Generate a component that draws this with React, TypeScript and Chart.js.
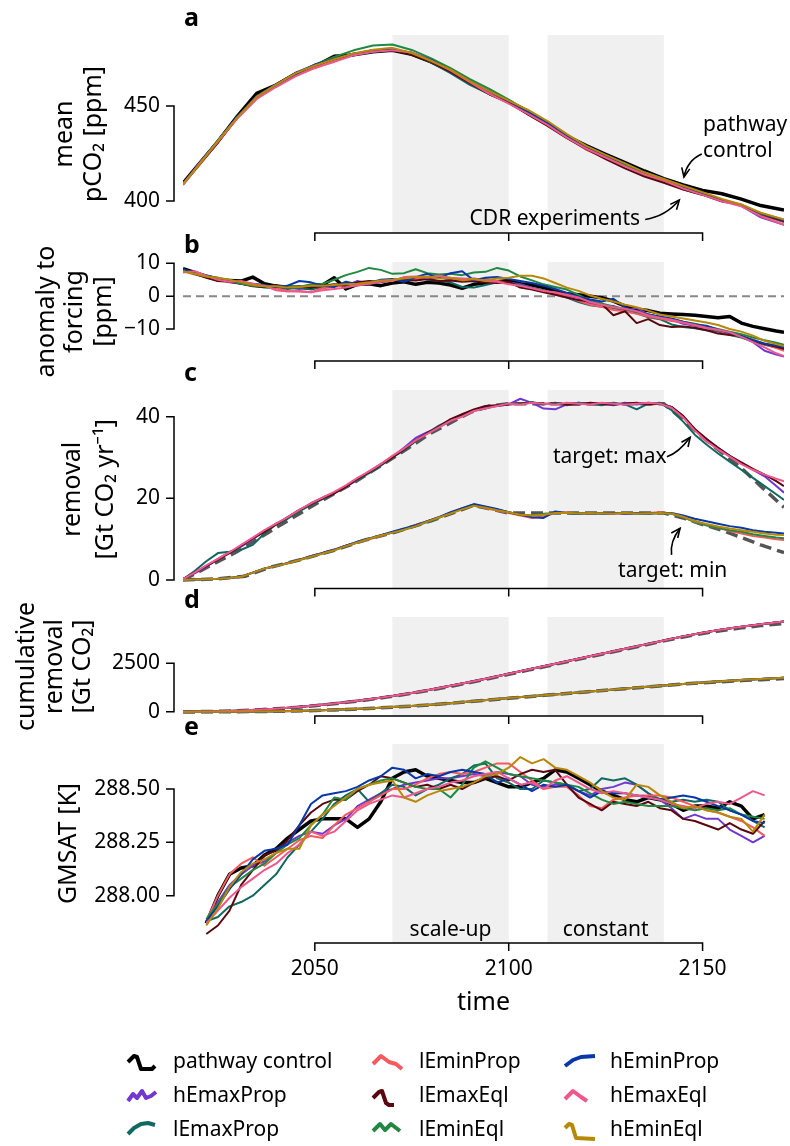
import { useEffect, useRef } from "react";
import { Chart, registerables } from "chart.js";

Chart.register(...registerables);

const W = 790;
const H = 1146;
const FONT = '"Noto Sans", "DejaVu Sans", sans-serif';

// ---------- time axes ----------
const X_MIN = 2016;
const X_MAX = 2171;
const X_TICKS = [2050, 2100, 2150];
const X_TICK_LABELS = ["2050", "2100", "2150"];
const SCALE_UP = [2070, 2100];
const CONSTANT = [2110, 2140];

const YEARS_5 = [2016, 2020, 2025, 2030, 2035, 2040, 2045, 2050, 2055, 2060, 2065, 2070, 2075, 2080, 2085, 2090, 2095, 2100, 2105, 2110, 2115, 2120, 2125, 2130, 2135, 2140, 2145, 2150, 2155, 2160, 2165, 2171];
const YEARS_3 = [2016, 2019, 2022, 2025, 2028, 2031, 2034, 2037, 2040, 2043, 2046, 2049, 2052, 2055, 2058, 2061, 2064, 2067, 2070, 2073, 2076, 2079, 2082, 2085, 2088, 2091, 2094, 2097, 2100, 2103, 2106, 2109, 2112, 2115, 2118, 2121, 2124, 2127, 2130, 2133, 2136, 2139, 2142, 2145, 2148, 2151, 2154, 2157, 2160, 2163, 2166, 2169, 2171];
const YEARS_E = [2022, 2025, 2028, 2031, 2034, 2037, 2040, 2043, 2046, 2049, 2052, 2055, 2058, 2061, 2064, 2067, 2070, 2073, 2076, 2079, 2082, 2085, 2088, 2091, 2094, 2097, 2100, 2103, 2106, 2109, 2112, 2115, 2118, 2121, 2124, 2127, 2130, 2133, 2136, 2139, 2142, 2145, 2148, 2151, 2154, 2157, 2160, 2163, 2166];

// ---------- (a) mean pCO2 [ppm] ----------
const PCO2_CONTROL = [409.4, 419.2, 431.3, 444.6, 456.6, 461, 466.9, 470.9, 476.2, 476.9, 478.5, 479.3, 477.2, 473.2, 468.2, 462.2, 456.8, 452.3, 446.9, 440.9, 434.2, 429.2, 424.6, 420.2, 415.8, 411.8, 408.5, 405.6, 403.8, 401, 397.6, 395.2];
const PCO2_HEMAXPROP = [409, 418.7, 431.8, 444, 454.3, 461.3, 467.5, 471.6, 474.4, 477.6, 478.6, 479.6, 478, 473.5, 468.2, 462.8, 457, 451.8, 446.1, 440.3, 434, 427.4, 423.1, 419.2, 414.1, 410.8, 407, 404, 400.5, 397.4, 391.4, 387.5];
const PCO2_LEMAXPROP = [408.7, 419.2, 431.9, 443.8, 454.1, 460.5, 466.6, 471.5, 474.8, 477.3, 479.2, 479.8, 477.9, 472.9, 467.3, 461.1, 456.2, 451.6, 446.1, 440.5, 433.5, 427.2, 422.9, 418.6, 413.7, 410.6, 406.2, 403.4, 400.3, 397.6, 392.8, 388.9];
const PCO2_LEMINPROP = [408.6, 418.4, 431.1, 444.2, 454.5, 460.4, 465.8, 469.9, 473.6, 476.9, 478.8, 479.6, 477.5, 473.9, 468.7, 462.2, 456.8, 451.5, 445.7, 439.9, 433.4, 427, 422.7, 418.6, 414.1, 410.8, 407.2, 403.8, 400.3, 397.8, 393, 389.1];
const PCO2_LEMAXEQL = [409.2, 418.8, 430.9, 443.8, 454, 461.4, 467.3, 471.1, 474.7, 477.5, 479.3, 479.5, 476.9, 473.2, 468, 462, 456.2, 451.8, 445.5, 439.5, 433.1, 427.4, 422.1, 417.2, 412.9, 409.6, 406, 403.2, 399.7, 398, 393.2, 389.3];
const PCO2_LEMINEQL = [408.8, 419, 431.7, 444.3, 454.2, 460.8, 467.2, 471.8, 475.8, 479.3, 481.8, 482.4, 479.5, 475.1, 469.9, 464.1, 459, 453.4, 447.3, 440.9, 434.2, 428, 423.3, 419, 414.7, 411, 407.2, 403.8, 400.7, 398, 393.4, 390.1];
const PCO2_HEMINPROP = [409.2, 419.3, 431.5, 444.4, 455.1, 461.4, 466.8, 471.8, 474.7, 477.3, 479.4, 479.8, 478.1, 474.3, 468.9, 463.1, 457.8, 452.6, 446.9, 441.1, 434.2, 428.4, 423.7, 419.8, 415.1, 411.8, 407.6, 404, 400.5, 397.8, 393.6, 389.9];
const PCO2_HEMAXEQL = [408.4, 419.2, 431.1, 443.4, 453.7, 460, 465.6, 470.3, 473.2, 476.7, 478.6, 479.4, 478.1, 473.9, 468.7, 462.5, 456.4, 451.2, 445.9, 440.1, 433.4, 427.6, 422.9, 418.2, 413.9, 410.8, 406.6, 403.2, 399.9, 397.2, 392, 387.5];
const PCO2_HEMINEQL = [409, 418.8, 431.7, 444, 454.9, 461.2, 467.2, 471.3, 474.6, 477.7, 479.6, 480.6, 477.9, 473.7, 469.1, 463.1, 457.8, 452.8, 447.9, 442.1, 435.2, 429, 424.3, 419.8, 415.1, 411.6, 408, 404.6, 401.1, 398.2, 393.8, 390.3];

// ---------- (b) anomaly to forcing [ppm] ----------
const ANOM_CONTROL = [8.4, 7.2, 6.0, 5.0, 4.8, 4.6, 5.8, 3.8, 3.0, 2.8, 2.6, 2.4, 3.4, 5.6, 2.2, 3.6, 3.8, 3.2, 4.0, 4.4, 3.6, 4.2, 4.0, 3.4, 2.4, 3.6, 4.0, 4.4, 4.8, 3.8, 3.4, 2.6, 1.6, 0.7, 0.4, 0.0, -0.5, -1.5, -3.0, -4.0, -4.4, -5.2, -5.4, -5.6, -5.8, -6.2, -6.6, -6.2, -8.2, -9.2, -9.9, -10.6, -11.0];
const ANOM_HEMAXPROP = [8.0, 6.8, 5.8, 5.4, 4.2, 3.8, 3.4, 3.0, 3.2, 2.6, 2.2, 3.0, 2.8, 3.4, 3.2, 4.6, 3.8, 4.2, 5.0, 4.8, 5.6, 5.2, 5.8, 5.0, 4.6, 5.4, 4.8, 4.4, 4.2, 3.6, 2.6, 1.6, 1.0, 0.2, -0.6, -2.2, -2.8, -3.0, -4.4, -3.6, -5.6, -6.4, -7.2, -8.4, -9.0, -9.6, -10.8, -11.4, -12.2, -14.0, -16.6, -17.8, -18.4];
const ANOM_LEMAXPROP = [7.8, 7.0, 6.2, 5.6, 4.8, 3.8, 3.2, 2.6, 2.4, 2.2, 2.6, 2.0, 2.8, 3.0, 3.8, 3.6, 4.2, 4.4, 4.8, 5.6, 5.8, 5.0, 4.6, 4.2, 2.8, 2.6, 3.4, 4.2, 4.0, 3.4, 2.4, 1.8, 0.6, -0.4, -1.8, -2.8, -3.2, -3.6, -4.6, -5.2, -6.4, -7.0, -8.6, -9.4, -9.8, -10.4, -10.6, -11.8, -12.6, -13.8, -14.8, -15.6, -16.2];
const ANOM_LEMINPROP = [7.6, 6.6, 5.8, 5.2, 4.2, 4.4, 3.6, 3.0, 2.4, 1.6, 1.4, 1.2, 2.4, 2.8, 3.4, 3.2, 4.0, 4.6, 5.0, 5.4, 5.2, 5.8, 5.6, 5.4, 5.0, 4.8, 5.2, 4.6, 4.0, 2.8, 2.2, 1.6, 0.8, -0.2, -1.4, -2.6, -3.2, -4.2, -4.6, -5.4, -6.2, -6.8, -7.6, -8.0, -8.8, -9.6, -10.4, -11.6, -12.2, -13.2, -14.6, -15.8, -16.6];
const ANOM_LEMAXEQL = [8.2, 6.8, 5.6, 4.6, 4.4, 3.8, 3.0, 2.8, 3.4, 2.6, 3.0, 2.6, 3.2, 3.6, 3.4, 4.2, 4.6, 4.4, 4.8, 5.0, 4.8, 5.2, 4.6, 4.8, 4.4, 4.6, 4.2, 4.0, 4.4, 2.6, 2.0, 1.2, 0.4, -0.4, -1.2, -1.6, -2.4, -5.8, -4.6, -8.2, -7.0, -8.8, -9.4, -9.2, -9.6, -10.4, -11.4, -11.8, -12.0, -13.6, -14.6, -15.4, -16.0];
const ANOM_LEMINEQL = [8.0, 6.8, 6.0, 5.4, 4.6, 3.8, 3.2, 3.0, 2.8, 3.2, 2.8, 3.6, 3.8, 5.0, 6.4, 7.4, 8.6, 8.0, 6.8, 7.0, 8.2, 7.0, 6.6, 6.8, 6.4, 7.2, 7.4, 8.6, 7.8, 6.0, 4.8, 3.6, 2.8, 2.0, 0.4, -1.4, -2.2, -3.2, -3.8, -4.8, -5.6, -6.4, -7.0, -7.8, -8.4, -9.2, -10.0, -10.8, -11.6, -12.6, -13.4, -14.2, -14.8];
const ANOM_HEMINPROP = [8.2, 7.2, 6.4, 5.4, 4.8, 4.2, 3.8, 3.4, 2.8, 3.2, 4.6, 4.2, 3.2, 2.8, 4.4, 3.6, 4.0, 5.0, 5.2, 4.4, 5.8, 6.8, 5.6, 7.0, 7.6, 4.8, 5.6, 5.8, 5.2, 4.6, 4.0, 3.2, 2.2, 1.0, -0.2, -1.0, -1.6, -0.8, -3.4, -4.6, -5.6, -6.2, -6.8, -7.8, -8.6, -9.0, -10.2, -11.2, -12.2, -13.4, -14.4, -15.0, -15.6];
const ANOM_HEMAXEQL = [7.2, 7.6, 6.2, 5.0, 4.4, 4.6, 3.8, 3.2, 1.8, 1.4, 1.6, 1.2, 1.8, 2.2, 2.6, 3.4, 3.8, 4.4, 4.6, 5.8, 6.0, 5.6, 6.2, 5.6, 5.4, 5.2, 4.6, 4.4, 3.6, 3.2, 2.4, 1.6, 1.2, 0.4, -0.4, -1.8, -2.6, -3.4, -3.8, -4.6, -5.8, -6.6, -7.2, -8.0, -8.8, -9.6, -10.2, -11.0, -12.4, -14.0, -15.6, -17.4, -18.2];
const ANOM_HEMINEQL = [7.6, 6.8, 6.0, 5.6, 5.0, 4.2, 3.4, 3.0, 3.0, 2.6, 2.8, 3.2, 3.2, 3.4, 3.6, 3.8, 4.2, 4.8, 5.0, 5.4, 5.8, 6.0, 5.4, 5.6, 4.8, 5.2, 4.8, 5.4, 5.6, 6.2, 6.2, 5.4, 4.0, 2.6, 1.6, 0.2, -0.8, -1.6, -2.6, -3.4, -4.4, -5.6, -6.2, -6.8, -7.4, -8.0, -8.8, -10.0, -10.8, -12.0, -13.6, -14.6, -15.2];
const ZERO_YEARS = [2016, 2171];
const ZERO_LINE = [0, 0];

// ---------- (c) removal [Gt CO2 / yr] ----------
const REM_HEMAXPROP = [0.2, 1.6, 3.2, 5.2, 6.8, 8.2, 10.0, 12.0, 13.8, 15.2, 17.0, 18.8, 20.2, 21.4, 22.8, 24.6, 26.6, 28.4, 30.2, 32.4, 34.8, 36.2, 37.4, 39.0, 40.6, 41.4, 42.2, 42.6, 43.0, 44.4, 43.4, 42.0, 41.8, 43.0, 43.4, 43.0, 43.2, 42.8, 43.4, 43.0, 43.4, 43.2, 42.4, 40.0, 36.8, 34.4, 32.4, 30.4, 28.6, 27.0, 25.4, 23.0, 21.4];
const REM_LEMAXPROP = [0.2, 2.2, 4.6, 6.6, 6.9, 7.4, 8.6, 11.4, 13.6, 15.0, 16.8, 18.4, 19.8, 21.2, 23.0, 24.6, 26.2, 28.0, 30.0, 31.8, 34.0, 36.0, 37.8, 39.2, 40.4, 41.6, 42.0, 42.8, 43.2, 43.2, 43.6, 43.0, 43.4, 42.8, 43.4, 43.2, 42.8, 43.4, 43.0, 41.8, 43.2, 43.4, 41.6, 38.8, 35.6, 33.2, 31.0, 29.0, 27.0, 25.0, 23.0, 21.0, 19.6];
const REM_LEMINPROP = [0.0, 0.1, 0.2, 0.3, 0.5, 0.8, 1.8, 2.8, 3.4, 4.1, 5.0, 5.8, 6.6, 7.4, 8.4, 9.2, 10.0, 10.8, 11.6, 12.4, 13.4, 14.4, 15.4, 16.4, 17.6, 18.4, 17.6, 17.0, 16.4, 15.8, 15.2, 15.6, 16.4, 16.6, 16.2, 16.4, 16.4, 16.2, 16.4, 16.2, 16.4, 16.6, 16.2, 15.4, 14.2, 13.4, 12.8, 12.0, 11.4, 10.8, 10.4, 10.0, 9.8];
const REM_LEMAXEQL = [0.2, 1.8, 3.4, 5.0, 6.6, 8.4, 10.2, 11.8, 13.6, 15.4, 17.2, 18.6, 20.0, 21.2, 22.8, 24.8, 26.4, 28.2, 30.0, 32.0, 34.2, 36.0, 37.6, 39.4, 40.6, 41.8, 42.6, 42.8, 43.0, 43.2, 43.4, 43.2, 43.2, 43.0, 43.0, 43.4, 43.2, 43.0, 43.2, 43.4, 43.0, 43.2, 42.4, 40.2, 37.0, 34.6, 32.4, 30.4, 28.8, 27.2, 25.8, 24.2, 23.0];
const REM_LEMINEQL = [0.0, 0.1, 0.2, 0.3, 0.5, 0.8, 1.8, 2.8, 3.4, 4.1, 4.9, 5.7, 6.5, 7.3, 8.3, 9.2, 10.1, 10.9, 11.6, 12.3, 13.2, 14.2, 15.2, 16.4, 17.4, 18.2, 17.8, 17.2, 16.6, 16.0, 15.8, 16.2, 16.4, 16.4, 16.3, 16.4, 16.3, 16.4, 16.4, 16.3, 16.3, 16.4, 16.2, 15.4, 14.2, 13.4, 12.8, 12.2, 11.8, 11.2, 10.8, 10.4, 10.2];
const REM_HEMINPROP = [0.0, 0.1, 0.2, 0.3, 0.5, 0.8, 1.8, 2.8, 3.4, 4.2, 5.0, 5.8, 6.6, 7.4, 8.4, 9.4, 10.2, 11.0, 11.8, 12.6, 13.4, 14.4, 15.4, 16.6, 17.6, 18.6, 18.0, 17.4, 16.6, 16.0, 15.4, 15.2, 16.8, 16.4, 16.2, 16.4, 16.2, 16.4, 16.2, 16.4, 16.2, 16.4, 16.4, 15.8, 15.0, 14.4, 13.8, 13.2, 12.8, 12.2, 11.8, 11.6, 11.4];
const REM_HEMAXEQL = [0.2, 1.8, 3.6, 5.2, 6.8, 8.6, 10.4, 12.2, 13.8, 15.4, 17.2, 18.8, 20.2, 21.6, 23.2, 25.0, 26.6, 28.4, 30.4, 32.2, 34.2, 35.8, 37.4, 39.0, 40.0, 41.4, 42.0, 42.6, 43.2, 43.0, 43.4, 43.2, 43.0, 43.4, 43.2, 43.0, 43.4, 43.2, 43.0, 43.2, 43.4, 43.2, 42.2, 39.8, 36.6, 34.0, 32.0, 30.2, 28.4, 27.0, 25.8, 24.8, 24.2];
const REM_HEMINEQL = [0.0, 0.1, 0.2, 0.3, 0.5, 0.8, 1.8, 2.8, 3.4, 4.1, 4.9, 5.7, 6.5, 7.3, 8.3, 9.2, 10.1, 10.9, 11.6, 12.3, 13.2, 14.3, 15.3, 16.3, 17.3, 18.2, 17.7, 17.1, 16.6, 16.0, 15.8, 16.0, 16.4, 16.5, 16.3, 16.4, 16.3, 16.3, 16.4, 16.3, 16.3, 16.4, 16.3, 15.5, 14.4, 13.7, 13.1, 12.6, 12.2, 11.8, 11.4, 11.1, 11.0];
const TARGET_MAX_YEARS = [2016, 2030, 2040, 2050, 2060, 2070, 2080, 2090, 2095, 2100, 2140, 2145, 2150, 2155, 2160, 2165, 2171];
const TARGET_MAX = [0, 7.0, 12.8, 18.5, 23.8, 29.8, 36.0, 41.0, 42.6, 43.2, 43.2, 39.2, 35.0, 31.2, 27.4, 23.0, 17.8];
const TARGET_MIN_YEARS = [2016, 2025, 2032, 2038, 2046, 2055, 2063, 2071, 2080, 2091, 2100, 2140, 2145, 2150, 2155, 2160, 2165, 2171];
const TARGET_MIN = [0, 0.3, 0.9, 3.0, 4.9, 7.3, 9.8, 11.8, 14.5, 18.3, 16.4, 16.4, 15.2, 13.6, 12.2, 10.4, 8.6, 6.7];

// ---------- (d) cumulative removal [Gt CO2] ----------
const CUM_MAX = [0, 4, 20, 50, 95, 155, 230, 320, 420, 535, 665, 810, 970, 1145, 1335, 1535, 1745, 1960, 2175, 2390, 2605, 2820, 3035, 3250, 3465, 3680, 3890, 4075, 4240, 4385, 4515, 4660];
const CUM_MIN = [0, 0.4, 1.5, 3.5, 8, 20, 40, 65, 97, 136, 183, 237, 297, 365, 442, 528, 618, 704, 784, 864, 946, 1028, 1110, 1192, 1274, 1356, 1436, 1506, 1570, 1632, 1690, 1756];
const TARGET_CUM_MAX = [0, 3, 18, 46, 90, 148, 222, 310, 410, 522, 650, 792, 950, 1122, 1310, 1508, 1716, 1930, 2146, 2362, 2578, 2794, 3010, 3226, 3442, 3658, 3862, 4040, 4195, 4330, 4445, 4560];
const TARGET_CUM_MIN = [0, 0.4, 1.5, 3.5, 8, 19, 38, 62, 94, 132, 178, 231, 290, 357, 433, 519, 609, 694, 776, 858, 940, 1022, 1104, 1186, 1268, 1350, 1428, 1494, 1552, 1606, 1656, 1710];

// ---------- (e) GMSAT [K] ----------
const GMSAT_CONTROL = [287.87, 288.00, 288.10, 288.13, 288.14, 288.19, 288.22, 288.27, 288.31, 288.35, 288.36, 288.36, 288.36, 288.32, 288.36, 288.44, 288.55, 288.58, 288.59, 288.56, 288.55, 288.54, 288.53, 288.53, 288.55, 288.53, 288.51, 288.51, 288.53, 288.55, 288.59, 288.58, 288.55, 288.52, 288.49, 288.47, 288.45, 288.44, 288.46, 288.45, 288.43, 288.40, 288.42, 288.42, 288.41, 288.44, 288.42, 288.36, 288.38];
const GMSAT_HEMAXPROP = [287.88, 287.97, 288.05, 288.10, 288.14, 288.16, 288.20, 288.25, 288.28, 288.30, 288.29, 288.33, 288.36, 288.42, 288.45, 288.48, 288.50, 288.52, 288.53, 288.54, 288.55, 288.55, 288.56, 288.57, 288.56, 288.58, 288.57, 288.56, 288.52, 288.51, 288.52, 288.52, 288.49, 288.47, 288.50, 288.51, 288.53, 288.52, 288.48, 288.45, 288.41, 288.36, 288.38, 288.36, 288.36, 288.31, 288.28, 288.25, 288.28];
const GMSAT_LEMAXPROP = [287.88, 287.90, 287.95, 287.97, 288.00, 288.05, 288.10, 288.18, 288.24, 288.30, 288.36, 288.43, 288.47, 288.50, 288.44, 288.48, 288.52, 288.51, 288.47, 288.50, 288.52, 288.55, 288.57, 288.61, 288.62, 288.55, 288.53, 288.50, 288.50, 288.54, 288.53, 288.52, 288.49, 288.50, 288.55, 288.54, 288.55, 288.52, 288.48, 288.45, 288.44, 288.45, 288.44, 288.45, 288.44, 288.40, 288.38, 288.35, 288.32];
const GMSAT_LEMINPROP = [287.88, 288.00, 288.10, 288.15, 288.18, 288.14, 288.18, 288.22, 288.26, 288.28, 288.27, 288.33, 288.38, 288.41, 288.44, 288.47, 288.50, 288.50, 288.52, 288.55, 288.57, 288.58, 288.57, 288.58, 288.60, 288.62, 288.62, 288.58, 288.54, 288.50, 288.51, 288.51, 288.47, 288.42, 288.41, 288.45, 288.46, 288.47, 288.47, 288.47, 288.46, 288.44, 288.42, 288.40, 288.39, 288.37, 288.35, 288.32, 288.28];
const GMSAT_LEMAXEQL = [287.82, 287.86, 287.93, 288.05, 288.12, 288.19, 288.21, 288.26, 288.33, 288.39, 288.43, 288.45, 288.45, 288.49, 288.52, 288.56, 288.55, 288.53, 288.51, 288.52, 288.50, 288.52, 288.50, 288.53, 288.55, 288.56, 288.54, 288.57, 288.59, 288.58, 288.59, 288.52, 288.46, 288.43, 288.40, 288.44, 288.43, 288.42, 288.44, 288.41, 288.40, 288.36, 288.35, 288.33, 288.31, 288.34, 288.31, 288.29, 288.35];
const GMSAT_LEMINEQL = [287.89, 287.96, 288.04, 288.08, 288.12, 288.15, 288.20, 288.24, 288.27, 288.33, 288.38, 288.46, 288.45, 288.50, 288.52, 288.54, 288.55, 288.53, 288.51, 288.50, 288.50, 288.46, 288.52, 288.60, 288.63, 288.60, 288.57, 288.56, 288.55, 288.54, 288.53, 288.52, 288.51, 288.48, 288.45, 288.43, 288.44, 288.43, 288.42, 288.42, 288.42, 288.41, 288.40, 288.41, 288.40, 288.41, 288.38, 288.37, 288.36];
const GMSAT_HEMINPROP = [287.88, 287.95, 288.03, 288.10, 288.17, 288.21, 288.22, 288.24, 288.33, 288.43, 288.47, 288.48, 288.49, 288.51, 288.54, 288.56, 288.60, 288.59, 288.55, 288.57, 288.56, 288.58, 288.59, 288.58, 288.57, 288.53, 288.55, 288.52, 288.49, 288.52, 288.51, 288.52, 288.49, 288.46, 288.49, 288.48, 288.48, 288.47, 288.46, 288.45, 288.46, 288.47, 288.46, 288.44, 288.42, 288.40, 288.38, 288.35, 288.34];
const GMSAT_HEMAXEQL = [287.87, 287.93, 287.99, 288.04, 288.08, 288.12, 288.15, 288.20, 288.24, 288.30, 288.28, 288.30, 288.35, 288.40, 288.43, 288.45, 288.47, 288.46, 288.48, 288.50, 288.51, 288.53, 288.54, 288.56, 288.57, 288.58, 288.55, 288.52, 288.53, 288.50, 288.54, 288.56, 288.53, 288.50, 288.48, 288.49, 288.48, 288.47, 288.46, 288.45, 288.43, 288.42, 288.41, 288.43, 288.44, 288.43, 288.46, 288.49, 288.47];
const GMSAT_HEMINEQL = [287.86, 287.94, 288.04, 288.11, 288.15, 288.17, 288.20, 288.22, 288.22, 288.33, 288.38, 288.42, 288.46, 288.50, 288.52, 288.53, 288.54, 288.46, 288.44, 288.47, 288.49, 288.50, 288.51, 288.53, 288.56, 288.57, 288.60, 288.65, 288.62, 288.64, 288.60, 288.59, 288.56, 288.53, 288.49, 288.46, 288.45, 288.52, 288.51, 288.47, 288.44, 288.41, 288.42, 288.40, 288.39, 288.37, 288.36, 288.30, 288.38];

// ---------- experiments ----------
type Series = { key: string; label: string; color: string; glyph: number[][] };
const SERIES: Series[] = [
  { key: "control", label: "pathway control", color: "#000000", glyph: [[0, 7], [6, 1], [9, 2], [13, 14], [24, 14], [27, 11]] },
  { key: "hEmaxProp", label: "hEmaxProp", color: "#7038d0", glyph: [[0, 12], [5, 5], [9, 9], [14, 2], [18, 9], [23, 7], [28, 3]] },
  { key: "lEmaxProp", label: "lEmaxProp", color: "#106860", glyph: [[0, 11], [6, 5], [13, 1], [20, 0], [27, 2]] },
  { key: "lEminProp", label: "lEminProp", color: "#f55a5f", glyph: [[0, 9], [8, 1], [16, 7], [23, 9], [29, 14]] },
  { key: "lEmaxEql", label: "lEmaxEql", color: "#5a0810", glyph: [[0, 9], [6, 3], [9, 2], [13, 14], [16, 16], [21, 16]] },
  { key: "lEminEql", label: "lEminEql", color: "#208840", glyph: [[0, 8], [7, 1], [12, 7], [18, 1], [27, 8]] },
  { key: "hEminProp", label: "hEminProp", color: "#0838a8", glyph: [[0, 11], [8, 5], [16, 2], [30, 1]] },
  { key: "hEmaxEql", label: "hEmaxEql", color: "#ee588c", glyph: [[0, 10], [8, 2], [16, 8], [22, 12]] },
  { key: "hEminEql", label: "hEminEql", color: "#b88808", glyph: [[0, 5], [4, 1], [7, 2], [11, 15], [30, 16]] },
];

const PCO2: Record<string, number[]> = {
  control: PCO2_CONTROL, hEmaxProp: PCO2_HEMAXPROP, lEmaxProp: PCO2_LEMAXPROP, lEminProp: PCO2_LEMINPROP,
  lEmaxEql: PCO2_LEMAXEQL, lEminEql: PCO2_LEMINEQL, hEminProp: PCO2_HEMINPROP, hEmaxEql: PCO2_HEMAXEQL, hEminEql: PCO2_HEMINEQL,
};
const ANOM: Record<string, number[]> = {
  control: ANOM_CONTROL, hEmaxProp: ANOM_HEMAXPROP, lEmaxProp: ANOM_LEMAXPROP, lEminProp: ANOM_LEMINPROP,
  lEmaxEql: ANOM_LEMAXEQL, lEminEql: ANOM_LEMINEQL, hEminProp: ANOM_HEMINPROP, hEmaxEql: ANOM_HEMAXEQL, hEminEql: ANOM_HEMINEQL,
};
const REMOVAL: Record<string, number[]> = {
  hEmaxProp: REM_HEMAXPROP, lEmaxProp: REM_LEMAXPROP, lEminProp: REM_LEMINPROP, lEmaxEql: REM_LEMAXEQL,
  lEminEql: REM_LEMINEQL, hEminProp: REM_HEMINPROP, hEmaxEql: REM_HEMAXEQL, hEminEql: REM_HEMINEQL,
};
const CUMULATIVE: Record<string, number[]> = {
  hEmaxProp: CUM_MAX, lEmaxProp: CUM_MAX, lEminProp: CUM_MIN, lEmaxEql: CUM_MAX,
  lEminEql: CUM_MIN, hEminProp: CUM_MIN, hEmaxEql: CUM_MAX, hEminEql: CUM_MIN,
};
const GMSAT: Record<string, number[]> = {
  control: GMSAT_CONTROL, hEmaxProp: GMSAT_HEMAXPROP, lEmaxProp: GMSAT_LEMAXPROP, lEminProp: GMSAT_LEMINPROP,
  lEmaxEql: GMSAT_LEMAXEQL, lEminEql: GMSAT_LEMINEQL, hEminProp: GMSAT_HEMINPROP, hEmaxEql: GMSAT_HEMAXEQL, hEminEql: GMSAT_HEMINEQL,
};

// ---------- layout ----------
const PLOT_LEFT = 183;
const PLOT_RIGHT = 784;
const SPINE_OFFSET = 9;
const TICK_LEN = 8;
const SHADE = "#f0f0f0";
const TARGET_COLOR = "#555555";
const TICK_FONT = `21px ${FONT}`;
const LABEL_FONT = `25px ${FONT}`;

const pts = (xs: number[], ys: number[]) => xs.map((x, i) => ({ x, y: ys[i] }));

function seriesSets(years: number[], table: Record<string, number[]>, ctrlWidth: number, width: number) {
  return SERIES.filter((s) => table[s.key]).map((s) => ({
    label: s.label,
    data: pts(years, table[s.key]),
    borderColor: s.color,
    borderWidth: s.key === "control" ? ctrlWidth : width,
    borderJoinStyle: "round",
    pointRadius: 0,
    tension: 0,
    fill: false,
    order: -SERIES.indexOf(s),
  }));
}

function dashedSet(years: number[], values: number[], color: string, width: number, dash: number[]) {
  return {
    label: "",
    data: pts(years, values),
    borderColor: color,
    borderWidth: width,
    borderDash: dash,
    pointRadius: 0,
    tension: 0,
    fill: false,
    order: 50,
  };
}

type Note = { text: string; x: number; y: number; align: CanvasTextAlign };
type Arrow = { from: number[]; via: number[]; to: number[] };

type PanelSpec = {
  letter: string;
  top: number;
  bottom: number;
  yMin: number;
  yMax: number;
  yTicks: number[];
  yTickLabels: string[];
  title: [string, number][];
  datasets: any[];
  notes?: Note[];
  arrows?: Arrow[];
  last?: boolean;
};

const PANELS: PanelSpec[] = [
  {
    letter: "a", top: 35, bottom: 233, yMin: 383.16, yMax: 487.37,
    yTicks: [400, 450], yTickLabels: ["400", "450"],
    title: [["mean", 71.7], ["pCO₂ [ppm]", 100.5]],
    datasets: seriesSets(YEARS_5, PCO2, 3.5, 2),
    notes: [
      { text: "pathway", x: 2150.1, y: 436.85, align: "left" },
      { text: "control", x: 2150.1, y: 423.1, align: "left" },
      { text: "CDR experiments", x: 2133.9, y: 387.4, align: "right" },
    ],
    arrows: [
      { from: [2149.8, 424.7], via: [2146.05, 421.3], to: [2145.2, 412.6] },
      { from: [2135.2, 390.3], via: [2140.4, 391.8], to: [2144.0, 400.5] },
    ],
  },
  {
    letter: "b", top: 262, bottom: 361, yMin: -19.74, yMax: 10.4,
    yTicks: [-10, 0, 10], yTickLabels: ["−10", "0", "10"],
    title: [["anomaly to", 54], ["forcing", 82], ["[ppm]", 111]],
    datasets: [dashedSet(ZERO_YEARS, ZERO_LINE, "#888888", 2, [8, 5]), ...seriesSets(YEARS_3, ANOM, 3.5, 2)],
  },
  {
    letter: "c", top: 390, bottom: 588.5, yMin: -2.08, yMax: 46.54,
    yTicks: [0, 20, 40], yTickLabels: ["0", "20", "40"],
    title: [["removal", 80], ["[Gt CO₂ yr⁻¹]", 113]],
    datasets: [
      dashedSet(TARGET_MAX_YEARS, TARGET_MAX, TARGET_COLOR, 3.5, [12, 6]),
      dashedSet(TARGET_MIN_YEARS, TARGET_MIN, TARGET_COLOR, 3.5, [12, 6]),
      ...seriesSets(YEARS_3, REMOVAL, 2, 2),
    ],
    notes: [
      { text: "target: max", x: 2111.4, y: 28.66, align: "left" },
      { text: "target: min", x: 2128.2, y: 0.74, align: "left" },
    ],
    arrows: [
      { from: [2140.8, 30.2], via: [2143.8, 31.1], to: [2146.8, 34.96] },
      { from: [2142.0, 6.13], via: [2141.5, 9.38], to: [2144.2, 12.67] },
    ],
  },
  {
    letter: "d", top: 617, bottom: 716, yMin: -222, yMax: 4891,
    yTicks: [0, 2500], yTickLabels: ["0", "2500"],
    title: [["cumulative", 34], ["removal", 62], ["[Gt CO₂]", 90]],
    datasets: [
      dashedSet(YEARS_5, TARGET_CUM_MAX, TARGET_COLOR, 3.5, [12, 6]),
      dashedSet(YEARS_5, TARGET_CUM_MIN, TARGET_COLOR, 3.5, [12, 6]),
      ...seriesSets(YEARS_5, CUMULATIVE, 2, 2),
    ],
  },
  {
    letter: "e", top: 744, bottom: 943, yMin: 287.778, yMax: 288.711,
    yTicks: [288.0, 288.25, 288.5], yTickLabels: ["288.00", "288.25", "288.50"],
    title: [["GMSAT [K]", 76]],
    datasets: seriesSets(YEARS_E, GMSAT, 3.5, 2),
    notes: [
      { text: "scale-up", x: (SCALE_UP[0] + SCALE_UP[1]) / 2, y: 287.809, align: "center" },
      { text: "constant", x: (CONSTANT[0] + CONSTANT[1]) / 2, y: 287.809, align: "center" },
    ],
    last: true,
  },
];

// legend placement (three columns, three rows)
const LEGEND_ROWS = [1068, 1102, 1136];
const LEGEND_COLS = [
  { glyphX: 128, textX: 173 },
  { glyphX: 373, textX: 419 },
  { glyphX: 565, textX: 610 },
];

function drawArrow(ctx: CanvasRenderingContext2D, p0: number[], c: number[], p1: number[]) {
  ctx.beginPath();
  ctx.moveTo(p0[0], p0[1]);
  ctx.quadraticCurveTo(c[0], c[1], p1[0], p1[1]);
  ctx.stroke();
  const ang = Math.atan2(p1[1] - c[1], p1[0] - c[0]);
  const L = 10;
  const s = 0.42;
  ctx.beginPath();
  ctx.moveTo(p1[0] - L * Math.cos(ang - s), p1[1] - L * Math.sin(ang - s));
  ctx.lineTo(p1[0], p1[1]);
  ctx.lineTo(p1[0] - L * Math.cos(ang + s), p1[1] - L * Math.sin(ang + s));
  ctx.stroke();
}

function decorPlugin(spec: PanelSpec) {
  return {
    id: "panelDecor",
    beforeDatasetsDraw(chart: any) {
      const { ctx, chartArea: a } = chart;
      const x = chart.scales.x;
      ctx.save();
      ctx.fillStyle = SHADE;
      for (const [s, e] of [SCALE_UP, CONSTANT]) {
        const x0 = x.getPixelForValue(s);
        const x1 = x.getPixelForValue(e);
        ctx.fillRect(x0, a.top, x1 - x0, a.bottom - a.top);
      }
      ctx.restore();
    },
    afterDraw(chart: any) {
      const { ctx, chartArea: a } = chart;
      const x = chart.scales.x;
      const y = chart.scales.y;
      ctx.save();
      ctx.strokeStyle = "#000";
      ctx.fillStyle = "#000";
      ctx.lineWidth = 1.5;
      ctx.lineCap = "butt";

      // trimmed left spine with ticks
      const sx = a.left - SPINE_OFFSET;
      const yt = spec.yTicks.map((v) => y.getPixelForValue(v));
      ctx.beginPath();
      ctx.moveTo(sx, Math.min(...yt) - 0.75);
      ctx.lineTo(sx, Math.max(...yt) + 0.75);
      yt.forEach((py) => {
        ctx.moveTo(sx, py);
        ctx.lineTo(sx - TICK_LEN, py);
      });
      ctx.stroke();
      ctx.font = TICK_FONT;
      ctx.textAlign = "right";
      ctx.textBaseline = "middle";
      spec.yTickLabels.forEach((t, i) => ctx.fillText(t, sx - TICK_LEN - 6, yt[i]));

      // trimmed bottom spine with ticks
      const xt = X_TICKS.map((v) => x.getPixelForValue(v));
      ctx.beginPath();
      ctx.moveTo(xt[0] - 0.75, a.bottom);
      ctx.lineTo(xt[xt.length - 1] + 0.75, a.bottom);
      xt.forEach((px) => {
        ctx.moveTo(px, a.bottom);
        ctx.lineTo(px, a.bottom + TICK_LEN);
      });
      ctx.stroke();

      // y-axis title, rotated, centred on the panel
      ctx.font = LABEL_FONT;
      ctx.textAlign = "center";
      ctx.textBaseline = "alphabetic";
      const cy = (a.top + a.bottom) / 2;
      for (const [text, bx] of spec.title) {
        ctx.save();
        ctx.translate(bx, cy);
        ctx.rotate(-Math.PI / 2);
        ctx.fillText(text, 0, 0);
        ctx.restore();
      }

      // panel letter
      ctx.font = `bold 25px ${FONT}`;
      ctx.textAlign = "left";
      ctx.fillText(spec.letter, 184, a.top - 9.5);

      // annotations
      ctx.font = TICK_FONT;
      for (const n of spec.notes || []) {
        ctx.textAlign = n.align;
        ctx.fillText(n.text, x.getPixelForValue(n.x), y.getPixelForValue(n.y));
      }
      ctx.lineWidth = 1.6;
      for (const ar of spec.arrows || []) {
        const P = (p: number[]) => [x.getPixelForValue(p[0]), y.getPixelForValue(p[1])];
        drawArrow(ctx, P(ar.from), P(ar.via), P(ar.to));
      }

      if (spec.last) {
        // x tick labels and axis label
        ctx.font = TICK_FONT;
        ctx.textAlign = "center";
        X_TICK_LABELS.forEach((t, i) => ctx.fillText(t, xt[i], a.bottom + 32));
        ctx.font = LABEL_FONT;
        ctx.fillText("time", (a.left + a.right) / 2, 1010);

        // legend
        ctx.font = TICK_FONT;
        ctx.textAlign = "left";
        SERIES.forEach((s, i) => {
          const col = LEGEND_COLS[Math.floor(i / 3)];
          const base = LEGEND_ROWS[i % 3];
          const gy = base - 13;
          ctx.strokeStyle = s.color;
          ctx.lineWidth = 4;
          ctx.lineJoin = "round";
          ctx.beginPath();
          s.glyph.forEach(([gx, gyy], k) => {
            const px = col.glyphX + gx;
            const py = gy + gyy;
            if (k === 0) ctx.moveTo(px, py);
            else ctx.lineTo(px, py);
          });
          ctx.stroke();
          ctx.fillStyle = "#000";
          ctx.fillText(s.label, col.textX, base);
        });
      }
      ctx.restore();
    },
  };
}

function Panel({ spec }: { spec: PanelSpec }) {
  const ref = useRef<HTMLCanvasElement>(null);
  useEffect(() => {
    if (!ref.current) return;
    const chart = new Chart(ref.current, {
      type: "line",
      data: { datasets: spec.datasets },
      options: {
        animation: false,
        responsive: false,
        devicePixelRatio: 1,
        events: [],
        layout: {
          padding: { left: PLOT_LEFT, right: W - PLOT_RIGHT, top: spec.top, bottom: H - spec.bottom },
        },
        scales: {
          x: { type: "linear", min: X_MIN, max: X_MAX, display: false },
          y: { type: "linear", min: spec.yMin, max: spec.yMax, display: false },
        },
        plugins: { legend: { display: false }, tooltip: { enabled: false } },
      },
      plugins: [decorPlugin(spec)],
    } as any);
    return () => chart.destroy();
  }, [spec]);
  return (
    <canvas
      ref={ref}
      width={W}
      height={H}
      style={{ position: "absolute", left: 0, top: 0, width: W, height: H }}
    />
  );
}

export default function App() {
  return (
    <div style={{ position: "absolute", left: 0, top: 0, width: W, height: H, background: "#fff", overflow: "hidden" }}>
      {PANELS.map((p) => (
        <Panel key={p.letter} spec={p} />
      ))}
    </div>
  );
}
